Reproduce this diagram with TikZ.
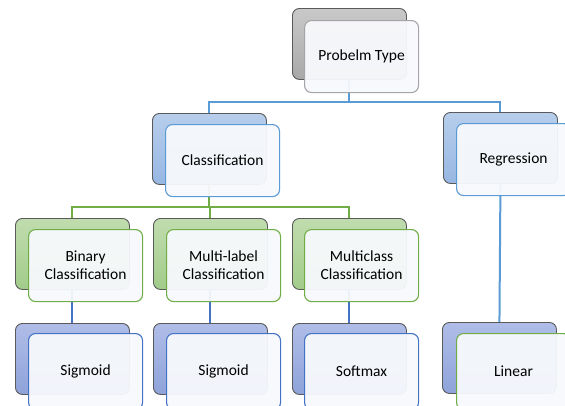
\documentclass[tikz,border=0pt]{standalone}
\usepackage{fontspec}
\setmainfont{Carlito}
\usetikzlibrary{backgrounds}

\definecolor{edgegray}{HTML}{5A5A5A}
\definecolor{grayA}{HTML}{C9C9C9}
\definecolor{grayB}{HTML}{A8A8A8}
\definecolor{grayln}{HTML}{A5A5A5}
\definecolor{blueA}{HTML}{B7CEEC}
\definecolor{blueB}{HTML}{97B7E2}
\definecolor{blueln}{HTML}{5B9BD5}
\definecolor{greenA}{HTML}{C0DCAE}
\definecolor{greenB}{HTML}{A2CC8A}
\definecolor{greenln}{HTML}{70AD47}
\definecolor{periA}{HTML}{AFBDE7}
\definecolor{periB}{HTML}{8FA3DA}
\definecolor{periln}{HTML}{4472C4}
\definecolor{frontfill}{HTML}{F7F9FC}

\begin{document}
\begin{tikzpicture}[x=1pt,y=-1pt,
  backbox/.style={draw=edgegray, line width=0.9pt, rounded corners=7pt,
    minimum width=114pt, minimum height=71pt, anchor=north west, inner sep=0pt},
  frontbox/.style={line width=1.1pt, rounded corners=7pt, fill=frontfill,
    fill opacity=0.95, text opacity=1, minimum width=114pt, minimum height=72pt,
    anchor=north west, inner sep=0pt, align=center,
    font=\fontsize{15.5}{18}\selectfont},
  tallfront/.style={frontbox, minimum height=76pt},
  grayback/.style={backbox, top color=grayA, bottom color=grayB},
  blueback/.style={backbox, top color=blueA, bottom color=blueB},
  greenback/.style={backbox, top color=greenA, bottom color=greenB},
  periback/.style={backbox, top color=periA, bottom color=periB},
  conn/.style={line width=2pt}
]
\useasboundingbox (0,0) rectangle (565,405);

% level 1
\node[grayback] (topB) at (292,8) {};
\node[frontbox, draw=grayln] (topF) at (304,20) {Probelm Type};

% level 2
\node[blueback] (clsB) at (152,113) {};
\node[frontbox, draw=blueln] (clsF) at (165,124) {Classification};
\node[blueback] (regB) at (443,112) {};
\node[frontbox, draw=blueln] (regF) at (456,123) {Regression};

% level 3
\node[greenback] (binB) at (15,218) {};
\node[frontbox, draw=greenln] (binF) at (28,229) {Binary\\Classification};
\node[greenback] (mlB) at (153,218) {};
\node[frontbox, draw=greenln] (mlF) at (166,229) {Multi-label\\Classification};
\node[greenback] (mcB) at (292,218) {};
\node[frontbox, draw=greenln] (mcF) at (304,229) {Multiclass\\Classification};

% level 4 (front boxes run past the lower edge)
\node[periback] (sig1B) at (15,323) {};
\node[tallfront, draw=periln] (sig1F) at (28,333) {Sigmoid};
\node[periback] (sig2B) at (153,323) {};
\node[tallfront, draw=periln] (sig2F) at (166,333) {Sigmoid};
\node[periback] (smB) at (292,323) {};
\node[tallfront, draw=periln] (smF) at (304,333) {Softmax};
\node[periback] (linB) at (442,322) {};
\node[tallfront, draw=greenln] (linF) at (456,333) {Linear};

\coordinate (busA) at (0,102);
\coordinate (busB) at (0,207);

\begin{scope}[on background layer]
  \draw[conn, blueln] (topB.south) -- (topB.south |- busA) -| (clsB.north);
  \draw[conn, blueln] (topB.south |- busA) -| (regB.north);
  \draw[conn, greenln] (clsB.south) -- (clsB.south |- busB) -| (binB.north);
  \draw[conn, greenln] (clsB.south |- busB) -| (mlB.north);
  \draw[conn, greenln] (clsB.south |- busB) -| (mcB.north);
  \draw[conn, periln] (binB.south) -- (sig1B.north);
  \draw[conn, periln] (mlB.south) -- (sig2B.north);
  \draw[conn, periln] (mcB.south) -- (smB.north);
  \draw[conn, blueln] (regB.south) -- (linB.north);
\end{scope}
\end{tikzpicture}
\end{document}
